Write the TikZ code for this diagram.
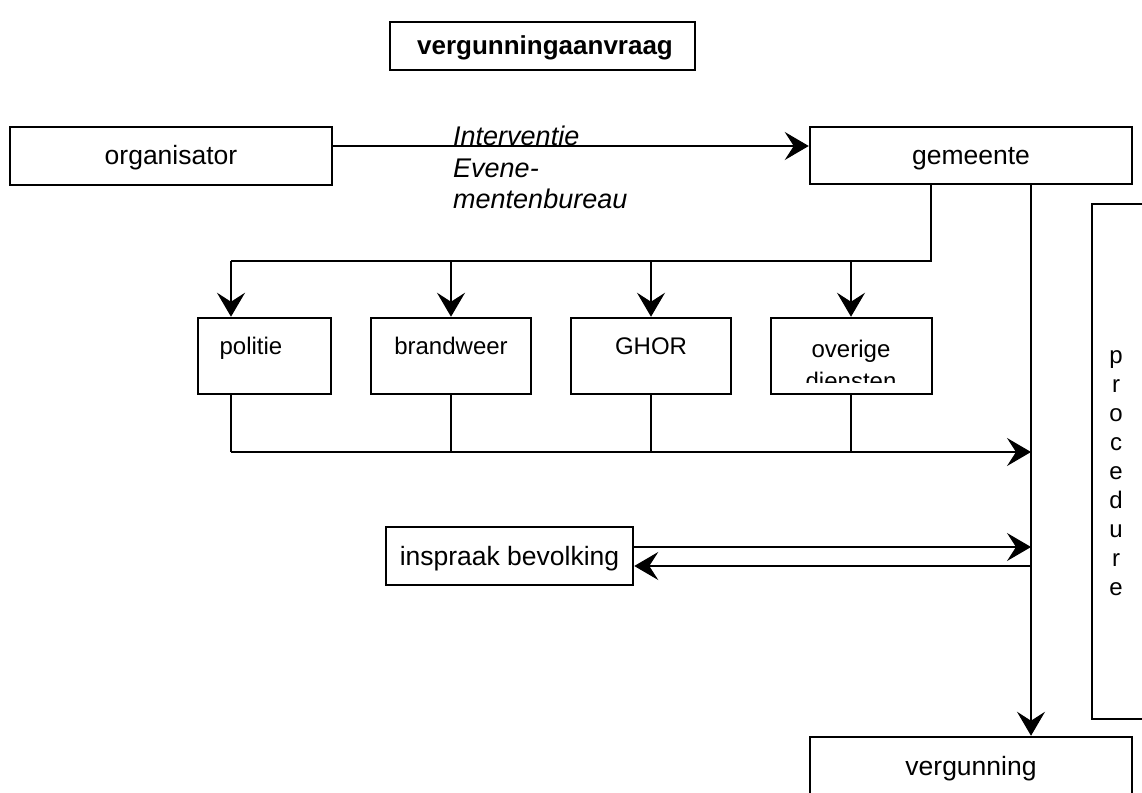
\documentclass[tikz,border=0pt]{standalone}
\usepackage{fontspec}
\setmainfont{Liberation Sans}
\usetikzlibrary{arrows.meta}
\begin{document}
\begin{tikzpicture}[x=1pt,y=-1pt,
  box/.style={draw,line width=2.5pt,inner sep=0pt},
  conn/.style={line width=1.1pt},
  arr/.style={conn,-{Stealth[length=24pt,width=28pt,inset=9pt]}},
  thickarr/.style={arr,line width=2pt},
  lbl/.style={font=\fontsize{26.5}{31}\selectfont,anchor=base,inner sep=0pt},
  ilbl/.style={font=\fontsize{27}{31}\selectfont\itshape,anchor=base west,inner sep=0pt},
  slbl/.style={font=\fontsize{24}{28}\selectfont,anchor=base,inner sep=0pt},
]
\clip (0,0) rectangle (1142,792);
\fill[white] (0,0) rectangle (1142,792);

% boxes
\node[box,minimum width=305pt,minimum height=48pt] (title) at (542.5,46) {};
\node[lbl,font=\fontsize{26}{31}\selectfont\bfseries] (titlet) at (545,55) {vergunningaanvraag};

\node[box,minimum width=322pt,minimum height=58pt] (org) at (171,156) {};
\node[lbl] (orgt) at (171,164) {organisator};

\node[box,minimum width=322pt,minimum height=57pt] (gem) at (971,155.5) {};
\node[lbl] (gemt) at (971,164) {gemeente};

\node[ilbl] (it1) at (453,145) {Interventie};
\node[ilbl] (it2) at (453,177) {Evene-};
\node[ilbl] (it3) at (453,208) {mentenbureau};

\node[box,minimum width=133pt,minimum height=76pt] (pol) at (264.5,356) {};
\node[slbl] (polt) at (251,354) {politie};
\node[box,minimum width=160pt,minimum height=76pt] (brw) at (451,356) {};
\node[slbl] (brwt) at (451,354) {brandweer};
\node[box,minimum width=160pt,minimum height=76pt] (ghor) at (651,356) {};
\node[slbl] (ghort) at (651,354) {GHOR};
\node[box,minimum width=161pt,minimum height=76pt] (ovr) at (851.5,356) {};
\node[slbl] (ovrt1) at (851,357) {overige};
\begin{scope}
  \clip (772,330) rectangle (931,382);
  \node[slbl] (ovrt2) at (851,389) {diensten};
\end{scope}

\node[box,minimum width=247pt,minimum height=58pt] (insp) at (509.5,556) {};
\node[lbl] (inspt) at (509.5,565) {inspraak bevolking};

\node[box,minimum width=322pt,minimum height=60pt] (verg) at (971,767) {};
\node[lbl] (vergt) at (971,775) {vergunning};

\node[box,minimum width=60pt,minimum height=515pt] (proc) at (1122,461.5) {};
\foreach \c [count=\i from 0] in {p,r,o,c,e,d,u,r,e}{
  \node[slbl] (pl\i) at (1116,363+29*\i) {\c};
}

% connectors
\draw[arr] (org.east |- 0,146) -- (gem.west |- 0,146);

\coordinate (j0) at (931,261);
\coordinate (j1) at (231,261);
\coordinate (j2) at (451,261);
\coordinate (j3) at (651,261);
\coordinate (j4) at (851,261);
\draw[conn] (gem.south -| j0) -- (j0) -- (j1);
\draw[thickarr] (j1) -- (pol.north -| j1);
\draw[thickarr] (j2) -- (brw.north -| j2);
\draw[arr] (j3) -- (ghor.north -| j3);
\draw[arr] (j4) -- (ovr.north -| j4);

\coordinate (b1) at (231,452);
\coordinate (b2) at (451,452);
\coordinate (b3) at (651,452);
\coordinate (b4) at (851,452);
\coordinate (bm) at (1031,452);
\draw[conn] (pol.south -| b1) -- (b1);
\draw[conn] (brw.south -| b2) -- (b2);
\draw[conn] (ghor.south -| b3) -- (b3);
\draw[conn] (ovr.south -| b4) -- (b4);
\draw[arr] (b1) -- (bm);

\coordinate (m1) at (1031,547);
\coordinate (m2) at (1031,566);
\draw[arr] (insp.east |- m1) -- (m1);
\draw[arr] (m2) -- (insp.east |- m2);

\draw[arr] (gem.south -| bm) -- (verg.north -| bm);
\end{tikzpicture}
\end{document}
